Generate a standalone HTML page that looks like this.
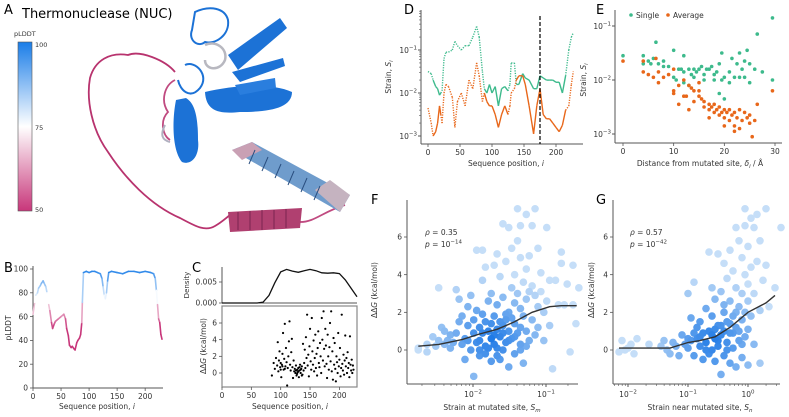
<!DOCTYPE html>
<html><head><meta charset="utf-8"><style>
html,body{margin:0;padding:0;background:#fff}
svg{display:block;font-family:"DejaVu Sans","Liberation Sans",sans-serif}
</style></head><body>
<svg id="fig" width="789" height="417" viewBox="0 0 789 417" xmlns="http://www.w3.org/2000/svg">
<defs>
<linearGradient id="cbar" x1="0" y1="0" x2="0" y2="1">
<stop offset="0" stop-color="#1a7de8"/><stop offset="0.5" stop-color="#ffffff"/><stop offset="1" stop-color="#c8367a"/>
</linearGradient>
</defs>
<g>
<text x="4" y="14" font-size="13">A</text>
<text x="22" y="18" font-size="13">Thermonuclease (NUC)</text>
<text x="14" y="36" font-size="6.5" fill="#333">pLDDT</text>
<rect x="18" y="42" width="14" height="169" fill="url(#cbar)" stroke="#555" stroke-width="0.6"/>
<text x="35" y="47" font-size="6.5" fill="#333">100</text>
<text x="35" y="130" font-size="6.5" fill="#333">75</text>
<text x="35" y="212" font-size="6.5" fill="#333">50</text>
<g>
<path d="M175,72 C165,60 140,50 128,55 C110,52 95,60 90,78 C86,100 92,130 108,152 C125,178 150,205 180,218 C195,226 205,232 215,226 C222,222 226,218 230,215" fill="none" stroke="#b8336e" stroke-width="1.8"/>
<path d="M175,80 C165,85 160,100 168,112 C160,120 162,135 170,140" fill="none" stroke="#c04a80" stroke-width="1.8"/>
<path d="M300,222 C315,222 322,212 345,205" fill="none" stroke="#c04a80" stroke-width="1.8"/>
<path d="M228,212 L302,208 L300,228 L230,232 Z" fill="#b04070"/>
<g stroke="#7a2550" stroke-width="1" fill="none"><path d="M238,212 v18 M250,211 v19 M262,210 v20 M274,210 v19 M286,209 v19"/></g>
<path d="M232,150 L252,142 L350,195 L340,212 Z" fill="#6f9ccc"/>
<path d="M232,150 L252,142 L262,150 L242,160 Z" fill="#c9a0b4"/>
<path d="M315,190 L340,212 L350,195 L330,180 Z" fill="#c5b3c0"/>
<g stroke="#2a4f80" stroke-width="1" fill="none"><path d="M255,150 l-6,14 M268,157 l-6,14 M281,164 l-6,14 M294,171 l-6,14 M307,178 l-6,14 M320,186 l-6,14"/></g>
<path d="M176,100 C172,120 172,150 182,162 C192,166 200,155 198,140 C198,120 196,104 186,98 Z" fill="#1c72d6"/>
<path d="M205,92 C230,86 270,82 292,92 C292,108 270,112 240,112 C220,114 206,112 205,92 Z" fill="#1c72d6"/>
<path d="M228,55 L280,18 L287,28 L238,70 Z" fill="#1c72d6"/>
<path d="M232,72 L283,58 L285,66 L240,82 Z" fill="#1c72d6"/>
<path d="M235,85 L275,78 L276,88 L240,95 Z" fill="#2a7ede"/>
<path d="M195,12 C210,5 225,8 228,20 C230,35 215,45 205,42 C198,48 188,40 192,30 Z" fill="none" stroke="#1c72d6" stroke-width="2"/>
<path d="M205,45 C215,40 228,48 225,60 C220,72 205,70 205,60" fill="none" stroke="#b8b8c0" stroke-width="2.5"/>
<path d="M185,65 C195,60 210,75 200,88 C190,100 180,90 178,80" fill="none" stroke="#1c72d6" stroke-width="2"/>
<path d="M165,125 C160,135 162,140 170,142" fill="none" stroke="#b0b0c0" stroke-width="2"/>
</g>
</g>
<text x="4" y="272" font-size="13">B</text>
<text x="192" y="272" font-size="13">C</text>
<text x="404" y="14" font-size="13">D</text>
<text x="596" y="14" font-size="13">E</text>
<text x="371" y="204" font-size="13">F</text>
<text x="596" y="204" font-size="13">G</text>
</svg>
<script>
const bPos=[0,3,5,8,10,13,15,18,20,23,25,28,30,33,35,38,40,45,50,55,58,60,63,65,68,70,73,75,78,80,83,85,87,88,90,95,100,105,110,115,120,123,125,127,129,131,133,135,140,150,160,170,180,190,200,210,215,218,220,222,224,226,228,230];
const bVal=[62,72,78,80,84,86,88,90,88,85,80,70,65,55,50,54,56,58,60,62,58,50,44,36,34,35,33,32,38,40,42,45,55,72,97,98,97,98,98,97,96,92,85,78,75,80,90,97,98,97,96,98,98,97,98,97,96,92,82,70,58,55,45,41];
const cDenX=[0,50,60,70,80,90,100,110,120,130,140,150,160,170,180,190,200,210,220,230];
const cDenY=[0,0,0,0.0002,0.0018,0.0048,0.0074,0.008,0.0076,0.0073,0.0077,0.008,0.0077,0.0072,0.0071,0.0072,0.007,0.0055,0.0035,0.0015];
const cX=[85,88,90,92,94,95,96,97,98,99,100,101,102,103,104,105,106,107,108,109,110,111,112,113,114,115,116,117,118,119,120,121,122,123,124,125,126,127,128,129,130,131,132,133,134,135,136,137,138,139,140,141,142,143,144,145,146,147,148,149,150,151,152,153,154,155,156,157,158,159,160,161,162,163,164,165,166,167,168,169,170,171,172,173,174,175,176,177,178,179,180,181,182,183,184,185,186,187,188,189,190,191,192,193,194,195,196,197,198,199,200,201,202,203,204,205,206,207,208,209,210,211,212,213,214,215,216,217,218,219,220,221,222,223,224,126,128,130,132,134,136,100,103,107];
const cY=[-0.3,1.2,0.5,1.8,0.9,3.7,0.2,1.5,2.6,0.7,1.2,-0.5,1.0,2.3,4.8,0.4,1.7,5.9,0.8,3.0,1.3,-1.5,0.6,2.0,3.8,6.2,1.0,0.3,2.5,4.1,0.7,-0.6,1.5,0.2,0.5,0.0,0.9,-0.3,0.4,0.1,0.6,-0.5,0.3,1.0,0.0,0.5,0.8,-0.2,3.5,0.3,1.2,2.8,0.6,4.3,1.8,7.0,0.9,2.2,-0.4,3.2,5.3,1.4,0.4,6.6,2.6,1.0,3.9,0.2,1.8,4.6,0.6,2.3,-0.3,3.0,5.0,1.2,0.7,3.6,2.0,0.0,6.6,4.0,1.5,7.4,2.9,0.8,5.3,3.3,1.1,-0.6,4.6,2.0,0.4,3.1,6.0,1.4,7.4,0.2,2.6,-0.8,4.2,1.0,3.6,0.5,-1.0,2.0,1.3,0.0,4.8,0.8,1.6,3.0,-0.4,0.6,7.0,1.1,0.3,2.2,-0.2,1.5,4.5,0.8,1.8,0.0,2.5,0.6,1.2,-0.5,4.4,1.0,0.3,1.6,0.0,0.9,0.4,0.3,-0.1,0.2,0.7,0.4,-0.3,0.4,0.8,0.5];
const dPos=[0,5,8,12,15,18,20,22,25,28,32,38,42,46,52,58,64,70,76,80,85,88,92,96,100,105,110,115,120,125,128,130,135,138,142,148,152,158,165,170,175,180,185,190,195,200,205,210,215,220,224,227];
const dGreen=[-1.5,-1.55,-1.7,-1.85,-1.9,-2.05,-2.0,-1.95,-1.2,-1.05,-1.05,-1.0,-0.8,-0.9,-1.0,-0.9,-0.9,-0.7,-0.45,-0.7,-1.5,-1.9,-2.0,-1.8,-2.0,-1.85,-2.3,-1.9,-1.85,-1.95,-1.8,-1.3,-1.3,-1.8,-1.8,-1.55,-1.65,-1.7,-1.9,-1.9,-1.6,-1.65,-1.7,-1.7,-1.7,-1.75,-1.75,-2.0,-1.6,-1.0,-0.7,-0.6];
const dOrange=[-2.35,-2.7,-3.0,-2.9,-2.7,-2.3,-2.5,-2.7,-2.0,-1.8,-1.85,-2.1,-2.8,-2.2,-2.0,-2.3,-1.7,-1.9,-1.3,-1.6,-2.2,-2.0,-2.2,-2.3,-2.3,-2.5,-2.8,-2.5,-2.3,-2.5,-2.3,-2.0,-1.9,-1.7,-1.6,-1.6,-1.8,-2.3,-2.95,-2.3,-1.9,-2.5,-2.6,-2.6,-2.7,-2.8,-2.9,-2.75,-2.4,-2.3,-1.8,-1.5];
const dSolid=[0,0,1,1,1,1,1,0,0,0,0,0,0,0,0,0,0,0,0,0,0,1,1,1,1,1,1,1,1,1,0,0,0,1,1,1,1,1,1,1,1,1,1,1,1,1,1,1,1,0,0,0];
const dMarker=175;
const eGx=[0,4,4,5,5.5,6,6.5,7,8,9,10,10,10.5,11,11.5,12,12,13,13.5,14,14.5,15,15.5,16,16,17,17.5,18,18,19,19.5,19.5,20,20,21,21.5,22,22.5,23,23,23.5,24,24.5,25,25,26,26.5,27.5,29.5,29.5,12,14,16.5,21,8,13,19,18.5,24];
const eGy=[-1.55,-1.55,-1.7,-1.65,-1.7,-1.6,-1.3,-1.7,-1.65,-1.75,-1.45,-1.95,-2.0,-1.8,-1.8,-1.55,-1.85,-1.8,-1.9,-1.8,-1.85,-1.8,-1.75,-1.9,-2.0,-1.8,-1.75,-1.9,-2.0,-1.7,-1.5,-2.0,-1.95,-2.35,-1.85,-1.6,-1.95,-1.7,-1.5,-1.95,-1.8,-1.95,-1.45,-1.7,-2.05,-1.8,-1.15,-1.85,-0.85,-2.0,-2.05,-1.95,-1.8,-2.05,-1.75,-2.1,-2.25,-1.85,-1.65];
const eOx=[0,4,4,5,6,6.5,7,7,8,9,10,10,10,11,12,12,12.5,13,13.5,14,14,15,15,15.5,16,16,17,17,17.5,18,18,18.5,19,19,19.5,20,20,20.5,21,21,21.5,22,22,22.5,23,23,23.5,24,24.5,25,25,26,26.5,25.5,29.5,15,11,13,17,20,22];
const eOy=[-1.65,-1.65,-1.85,-1.9,-1.95,-1.6,-1.85,-2.05,-1.95,-1.9,-1.8,-2.2,-2.25,-2.1,-2.0,-2.3,-2.3,-2.1,-2.15,-2.2,-2.4,-2.2,-2.3,-2.35,-2.4,-2.5,-2.45,-2.55,-2.5,-2.45,-2.6,-2.55,-2.5,-2.65,-2.6,-2.55,-2.7,-2.6,-2.55,-2.75,-2.65,-2.6,-2.85,-2.7,-2.55,-2.9,-2.75,-2.6,-2.7,-2.65,-2.8,-2.75,-2.45,-3.05,-2.2,-2.05,-2.45,-2.55,-2.7,-2.85,-2.95];
const fX=[-2.75,-2.75,-2.63,-2.63,-2.55,-2.51,-2.47,-2.43,-2.39,-2.39,-2.35,-2.31,-2.31,-2.27,-2.23,-2.47,-2.23,-2.19,-2.19,-2.15,-2.15,-2.11,-2.11,-2.07,-2.07,-2.03,-2.03,-1.99,-1.99,-1.99,-1.95,-1.95,-1.91,-1.91,-1.91,-1.87,-1.87,-1.87,-1.83,-1.83,-1.83,-1.79,-1.79,-1.75,-1.75,-1.75,-1.71,-1.71,-1.71,-1.67,-1.67,-1.67,-1.63,-1.63,-1.63,-1.59,-1.59,-1.59,-1.59,-1.55,-1.55,-1.55,-1.51,-1.51,-1.51,-1.51,-1.47,-1.47,-1.47,-1.43,-1.43,-1.43,-1.43,-1.39,-1.39,-1.39,-1.39,-1.35,-1.35,-1.35,-1.35,-1.35,-1.31,-1.31,-1.31,-1.27,-1.27,-1.27,-1.27,-1.23,-1.23,-1.23,-1.19,-1.19,-1.19,-1.15,-1.15,-1.15,-1.11,-1.11,-1.11,-1.07,-1.07,-1.03,-1.03,-0.99,-0.99,-0.95,-0.95,-0.91,-0.87,-0.83,-0.79,-0.79,-0.75,-0.71,-0.67,-0.63,-0.63,-0.59,-0.55,-1.79,-1.83,-1.95,-2.07,-1.71,-1.63,-1.55,-1.75,-1.87,-1.67,-1.51,-1.59,-1.43,-1.35,-1.27,-1.47,-1.67,-1.91];
const fY=[0.1,0.0,-0.1,0.3,0.7,0.2,0.5,1.2,1.0,0.3,0.5,0.8,0.1,0.4,0.9,3.3,3.2,2.7,1.5,0.3,1.8,0.6,-0.5,1.3,2.3,0.0,2.9,-1.4,0.9,1.6,5.3,2.1,0.5,1.2,-0.3,5.3,3.7,0.9,1.5,4.4,0.2,2.6,1.0,0.6,3.0,-0.6,1.8,4.5,0.3,1.1,2.4,5.1,0.7,3.9,-0.5,1.3,6.7,2.8,0.0,1.6,4.7,0.4,6.5,2.0,1.0,-0.9,5.4,3.3,0.6,4.0,1.4,2.5,-0.2,7.5,5.8,3.0,0.9,6.6,4.9,2.2,1.2,0.3,3.6,1.8,-0.7,7.2,4.3,2.7,1.0,5.0,3.1,0.5,6.6,3.4,1.6,7.5,2.9,0.8,5.4,2.3,1.2,4.1,3.1,2.0,0.5,6.5,2.6,3.7,1.3,-1.0,3.7,2.4,4.6,5.2,2.4,3.5,-0.1,4.5,2.4,1.4,3.3,0.1,-0.2,0.4,0.5,0.8,1.5,1.9,1.4,1.9,0.1,0.5,0.9,0.7,0.0,0.2,1.7,-0.3,0.0];
const fTrendX=[-2.75,-2.47,-2.15,-1.91,-1.67,-1.43,-1.19,-0.95,-0.79,-0.58];
const fTrendY=[0.2,0.3,0.55,0.85,1.1,1.5,2.0,2.3,2.35,2.35];
const gX=[-2.15,-2.1,-2.05,-2.0,-1.95,-1.9,-1.85,-1.65,-1.45,-1.4,-1.35,-1.3,-1.25,-1.2,-1.15,-1.1,-1.05,-1.0,-1.0,-0.95,-0.95,-0.9,-0.9,-0.85,-0.85,-0.8,-0.8,-0.75,-0.75,-0.7,-0.7,-0.65,-0.65,-0.6,-0.6,-0.6,-0.55,-0.55,-0.55,-0.5,-0.5,-0.5,-0.45,-0.45,-0.45,-0.4,-0.4,-0.4,-0.4,-0.35,-0.35,-0.35,-0.3,-0.3,-0.3,-0.3,-0.25,-0.25,-0.25,-0.2,-0.2,-0.2,-0.2,-0.15,-0.15,-0.15,-0.1,-0.1,-0.1,-0.1,-0.05,-0.05,-0.05,-0.05,-0.05,0.0,0.0,0.0,0.0,0.0,0.05,0.05,0.05,0.1,0.1,0.1,0.15,0.15,0.2,0.2,0.2,0.25,0.3,0.3,0.35,0.45,0.55,-0.6,-0.7,-0.8,-0.5,-0.45,-0.35,-0.25,-0.55,-0.65,-0.9,-1.0,-0.3,-0.15,-0.1,-0.4,-0.2];
const gY=[-0.1,0.5,0.0,0.1,0.3,-0.2,0.6,0.3,0.2,0.5,0.0,-0.2,0.4,0.2,-0.3,0.8,0.3,3.0,0.1,1.7,0.5,3.6,-0.3,1.2,0.6,0.2,1.5,0.9,-0.5,0.4,2.2,1.0,5.2,0.0,1.8,3.3,0.6,2.7,-0.6,5.1,1.3,0.2,3.1,0.8,-1.3,4.6,2.0,1.0,-0.3,3.8,1.5,0.4,5.3,2.6,0.9,-0.7,4.2,1.8,0.1,6.5,3.3,1.2,-0.9,5.8,2.3,0.5,4.9,3.0,1.6,-0.4,7.5,6.6,4.0,2.0,0.7,5.5,3.5,2.6,1.1,-0.8,7.0,4.4,1.8,6.5,3.0,0.3,7.2,4.7,5.8,2.1,-0.7,3.7,7.5,4.5,2.3,3.3,6.5,0.8,0.0,0.7,0.5,1.3,0.0,0.9,1.1,-0.2,0.9,0.6,1.4,1.0,0.3,2.4,2.0];
const gTrendX=[-2.15,-1.3,-1.0,-0.8,-0.55,-0.3,0.0,0.3,0.45];
const gTrendY=[0.1,0.1,0.4,0.5,0.7,1.2,2.0,2.5,2.9];
const linTicks=[0,50,100,150,200];
const bTicksY=[0,20,40,60,80,100];
const ddgTicks=[0,2,4,6];
const logTicks3=[-3,-2,-1];
</script>
<script>
const svg=document.getElementById('fig');
const NS='http://www.w3.org/2000/svg';
function mk(tag,attrs,parent){const e=document.createElementNS(NS,tag);for(const k in attrs)e.setAttribute(k,attrs[k]);(parent||svg).appendChild(e);return e;}
function lin(d0,d1,r0,r1){return v=>r0+(v-d0)*(r1-r0)/(d1-d0);}
const AX='#555';
function spine(x1,y1,x2,y2,name){const l=mk('line',{x1,y1,x2,y2,stroke:AX,'stroke-width':1});

return l;}
function txt(x,y,s,opts,name){const t=mk('text',Object.assign({x,y,'font-size':7.5,fill:'#333'},opts||{}));t.textContent=s;

return t;}
function xTicks(vals,sx,y0,labels,name){vals.forEach((v,i)=>{const x=sx(v);mk('line',{x1:x,y1:y0,x2:x,y2:y0+3,stroke:AX,'stroke-width':0.8});
txt(x,y0+11,labels?labels[i]:String(v),{'text-anchor':'middle'},name);});}
function yTicks(vals,sy,x0,labels,name){vals.forEach((v,i)=>{const y=sy(v);mk('line',{x1:x0-3,y1:y,x2:x0,y2:y,stroke:AX,'stroke-width':0.8});
txt(x0-5,y+2.7,labels?labels[i]:String(v),{'text-anchor':'end'},name);});}
function logLabel(x,y,p,anchor,name){const t=mk('text',{x,y,'font-size':7.5,fill:'#333','text-anchor':anchor||'end'});


t.innerHTML='10<tspan dy="-3.5" font-size="5.5">\u2212'+Math.abs(p)+'</tspan>';return t;}
function logLabelPos(x,y,p,name){const t=mk('text',{x,y,'font-size':7.5,fill:'#333','text-anchor':'middle'});


t.innerHTML='10<tspan dy="-3.5" font-size="5.5">'+(p<0?'\u2212'+Math.abs(p):p)+'</tspan>';return t;}
function plddtColor(v){const c0=[255,255,255];let c1,t;if(v>=75){c1=[26,125,232];t=Math.min(1,(v-75)/25);}else{c1=[200,54,122];t=Math.min(1,(75-v)/25);}
return 'rgb('+c0.map((c,i)=>Math.round(c+(c1[i]-c)*t)).join(',')+')';}
function vlabel(x,y,html,name,fs){const t=mk('text',{x:0,y:0,'font-size':fs||7.5,fill:'#333','text-anchor':'middle',transform:'translate('+x+','+y+') rotate(-90)'});t.innerHTML=html;

return t;}

(function(){const sx=lin(0,230,33,162), sy=lin(0,100,388,269);
spine(33,266,33,388,'b-y-axis');spine(33,388,163,388,'b-x-axis');
xTicks(linTicks,sx,388,null,'b-x-tick');yTicks(bTicksY,sy,33,null,'b-y-tick');
for(let i=0;i<bPos.length-1;i++){const l=mk('line',{x1:sx(bPos[i]),y1:sy(bVal[i]),x2:sx(bPos[i+1]),y2:sy(bVal[i+1]),stroke:plddtColor((bVal[i]+bVal[i+1])/2),'stroke-width':1.6,'stroke-linecap':'round'});

}
vlabel(11,328,'pLDDT','b-y-axis-title');
const t=txt(97,409,'',{'text-anchor':'middle'},'b-x-axis-title');t.innerHTML='Sequence position, <tspan font-style="italic">i</tspan>';
})();

(function(){const sx=lin(0,230,222,357);
const syd=lin(0,0.005,303,282);
spine(222,267,222,303,'c-density-y-axis');spine(222,303,357,303,'c-density-x-axis');
yTicks([0,0.005],syd,222,['0.000','0.005'],'c-density-y-tick');
let d='';cDenX.forEach((x,i)=>{d+=(i?'L':'M')+sx(x).toFixed(1)+','+syd(cDenY[i]).toFixed(1);});
const p=mk('path',{d,fill:'none',stroke:'#111','stroke-width':1.3});


vlabel(189,285,'Density','c-density-y-title',7);
const sy=lin(0,6,373,323);
const fr=mk('rect',{x:222,y:306,width:135,height:81,fill:'none',stroke:'#888','stroke-width':1.2});


xTicks(linTicks,sx,387,null,'c-x-tick');yTicks(ddgTicks,sy,222,null,'c-y-tick');
cX.forEach((x,i)=>{const c=mk('circle',{cx:sx(x),cy:sy(cY[i]),r:1.1,fill:'#000'});

});
vlabel(206,346,'\u0394\u0394<tspan font-style="italic">G</tspan> (kcal/mol)','c-y-axis-title');
const t=txt(290,409,'',{'text-anchor':'middle'},'c-x-axis-title');t.innerHTML='Sequence position, <tspan font-style="italic">i</tspan>';
})();

const GREEN='#3dba8c', ORANGE='#e8671a';
(function(){const sx=lin(0,200,428,556), sy=lin(-2,-1,93,50);
spine(421,10,421,144,'d-y-axis');spine(421,144,583,144,'d-x-axis');
xTicks(linTicks,sx,144,null,'d-x-tick');
logTicks3.forEach(p=>{const y=sy(p);mk('line',{x1:418,y1:y,x2:421,y2:y,stroke:AX});logLabel(417,y+3,p,'end','d-y-tick');
for(let k=2;k<10;k++){const yy=sy(p+Math.log10(k));if(yy>10)mk('line',{x1:419,y1:yy,x2:421,y2:yy,stroke:AX,'stroke-width':0.6});}});
[[dGreen,GREEN,'green'],[dOrange,ORANGE,'orange']].forEach(([vals,col,nm])=>{
for(let i=0;i<dPos.length-1;i++){const solid=dSolid[i]&&dSolid[i+1];
const l=mk('line',{x1:sx(dPos[i]),y1:sy(vals[i]),x2:sx(dPos[i+1]),y2:sy(vals[i+1]),stroke:col,'stroke-width':1.4,'stroke-dasharray':solid?'':'1.2,1.3'});

}});
const m=mk('line',{x1:sx(dMarker),y1:16,x2:sx(dMarker),y2:144,stroke:'#000','stroke-width':1.2,'stroke-dasharray':'4,2'});


vlabel(391,77,'Strain, <tspan font-style="italic">S</tspan><tspan font-size="5.5" dy="2" font-style="italic">i</tspan>','d-y-axis-title');
const t=txt(506,166,'',{'text-anchor':'middle'},'d-x-axis-title');t.innerHTML='Sequence position, <tspan font-style="italic">i</tspan>';
})();

(function(){const sx=lin(0,30,623,775), sy=lin(-2,-1,80,26);
spine(615,10,615,143,'e-y-axis');spine(615,143,782,143,'e-x-axis');
xTicks([0,10,20,30],sx,143,null,'e-x-tick');
logTicks3.forEach(p=>{const y=sy(p);mk('line',{x1:612,y1:y,x2:615,y2:y,stroke:AX});logLabel(611,y+3,p,'end','e-y-tick');});
eGx.forEach((x,i)=>{const c=mk('circle',{cx:sx(x),cy:sy(eGy[i]),r:1.8,fill:GREEN});

});
eOx.forEach((x,i)=>{const c=mk('circle',{cx:sx(x),cy:sy(eOy[i]),r:1.8,fill:ORANGE});

});
const l1=mk('circle',{cx:631,cy:15,r:1.8,fill:GREEN});


txt(636,18,'Single',{},'legend-single-label');
const l2=mk('circle',{cx:668,cy:15,r:1.8,fill:ORANGE});


txt(673,18,'Average',{},'legend-average-label');
vlabel(586,80,'Strain, <tspan font-style="italic">S</tspan><tspan font-size="5.5" dy="2" font-style="italic">i</tspan>','e-y-axis-title');
const t=txt(700,166,'',{'text-anchor':'middle'},'e-x-axis-title');t.innerHTML='Distance from mutated site, <tspan font-style="italic">\u03b4</tspan><tspan font-size="5.5" dy="2" font-style="italic">i</tspan><tspan dy="-2"> / \u00c5</tspan>';
})();

function blueCol(t){const a=[31,122,230],b=[197,222,248];return 'rgb('+a.map((c,i)=>Math.round(c+(b[i]-c)*t)).join(',')+')';}
function scatterPanel(o){const {xs,ys,tx,ty,sx,sy,x0,x1,cx,cy,scx,name,decs}=o;
spine(x0,200,x0,384,name+'-y-axis');spine(x0,384,x1,384,name+'-x-axis');
yTicks(ddgTicks,sy,x0,null,name+'-y-tick');
decs.forEach(p=>{const x=sx(p);mk('line',{x1:x,y1:384,x2:x,y2:387,stroke:AX});logLabelPos(x,397,p,name+'-x-tick');});
const minorStart=Math.floor(o.dmin);for(let p=minorStart;p<o.dmax;p++)for(let k=2;k<10;k++){const v=p+Math.log10(k);if(v>o.dmin&&v<o.dmax){const x=sx(v);mk('line',{x1:x,y1:384,x2:x,y2:386,stroke:AX,'stroke-width':0.6});}}
const pts=xs.map((x,i)=>{const d=Math.sqrt(Math.pow((x-cx)/scx,2)+Math.pow((ys[i]-cy)/1.6,2));return {x,y:ys[i],t:Math.min(1,d/2.2)};});
pts.sort((a,b)=>b.t-a.t);
pts.forEach(p=>{const c=mk('circle',{cx:sx(p.x),cy:sy(p.y),r:3.8,fill:blueCol(p.t)});

});
let d='';tx.forEach((x,i)=>{d+=(i?'L':'M')+sx(x).toFixed(1)+','+sy(ty[i]).toFixed(1);});
const tl=mk('path',{d,fill:'none',stroke:'#333','stroke-width':1.4});

}
(function(){const sx=lin(-2,-1,473,546), sy=lin(0,6,350,237);
scatterPanel({xs:fX,ys:fY,tx:fTrendX,ty:fTrendY,sx,sy,x0:407,x1:578,cx:-1.75,cy:0.6,scx:0.45,name:'f',decs:[-2,-1],dmin:-2.9,dmax:-0.55});
const r=txt(425,235,'',{},'f-rho-annotation');r.innerHTML='<tspan font-style="italic">\u03c1</tspan> = 0.35';
const p=txt(425,247,'',{},'f-p-annotation');p.innerHTML='<tspan font-style="italic">p</tspan> = 10<tspan dy="-3.5" font-size="5.5">\u221214</tspan>';
vlabel(377,290,'\u0394\u0394<tspan font-style="italic">G</tspan> (kcal/mol)','f-y-axis-title');
const t=txt(492,410,'',{'text-anchor':'middle'},'f-x-axis-title');t.innerHTML='Strain at mutated site, <tspan font-style="italic">S</tspan><tspan font-size="5.5" dy="2" font-style="italic">m</tspan>';
})();
(function(){const sx=lin(-2,-1,628,688), sy=lin(0,6,350,237);
scatterPanel({xs:gX,ys:gY,tx:gTrendX,ty:gTrendY,sx,sy,x0:613,x1:780,cx:-0.6,cy:0.5,scx:0.5,name:'g',decs:[-2,-1,0],dmin:-2.25,dmax:0.5});
const r=txt(630,235,'',{},'g-rho-annotation');r.innerHTML='<tspan font-style="italic">\u03c1</tspan> = 0.57';
const p=txt(630,247,'',{},'g-p-annotation');p.innerHTML='<tspan font-style="italic">p</tspan> = 10<tspan dy="-3.5" font-size="5.5">\u221242</tspan>';
vlabel(594,290,'\u0394\u0394<tspan font-style="italic">G</tspan> (kcal/mol)','g-y-axis-title');
const t=txt(700,410,'',{'text-anchor':'middle'},'g-x-axis-title');t.innerHTML='Strain near mutated site, <tspan font-style="italic">S</tspan><tspan font-size="5.5" dy="2" font-style="italic">n</tspan>';
})();
</script>
</body></html>
